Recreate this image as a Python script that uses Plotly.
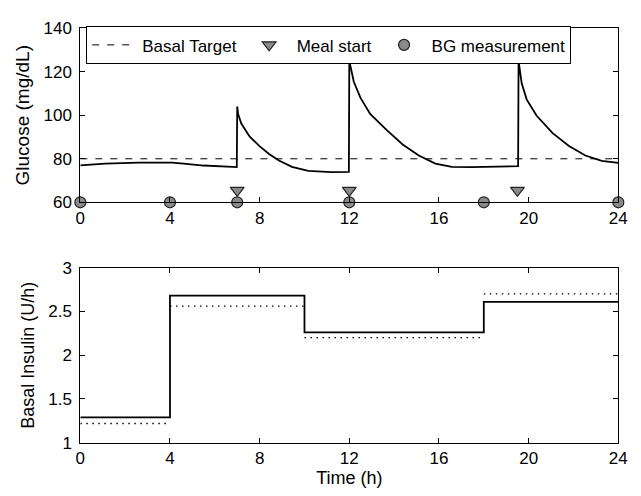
import plotly.graph_objects as go

# Glucose trajectory (mg/dL) over 24 h
t_glucose = [0, 1.1, 2.6, 4.1, 4.6, 5.5, 6.8, 6.98,
             7.0, 7.04, 7.18, 7.55, 7.98, 8.42, 8.86, 9.44, 10.17, 11.2, 11.98,
             12.0, 12.2, 12.5, 12.93, 13.66, 14.38, 15.1, 15.84, 16.57, 17.44, 18.5, 19.53,
             19.55, 19.69, 19.91, 20.35, 21.07, 21.8, 22.53, 23.26, 24.0]
glucose = [77.0, 77.8, 78.2, 78.2, 77.8, 76.9, 76.3, 76.2,
           104.0, 100.6, 96.2, 90.3, 85.9, 82.2, 79.2, 76.3, 74.4, 73.9, 74.0,
           125.0, 115.4, 108.0, 100.6, 93.3, 86.6, 81.5, 77.8, 76.3, 76.2, 76.4, 76.6,
           125.0, 114.7, 107.3, 99.9, 91.8, 85.9, 81.5, 79.0, 78.1]

# Basal glucose target (mg/dL)
t_target = [0, 24]
basal_target = [80, 80]

# Meal starts and blood glucose measurements
meal_times = [7, 12, 19.5]
meal_marker_level = [65.5, 65.5, 65.5]
bg_times = [0, 4, 7, 12, 18, 24]
bg_marker_level = [60, 60, 60, 60, 60, 60]

# Basal insulin profiles (U/h), piecewise constant
step_edges = [0, 4, 10, 18, 24]
insulin_solid = [1.29, 2.68, 2.26, 2.61]
insulin_dotted = [1.22, 2.56, 2.20, 2.70]

W, H = 641, 496
x_dom = [77 / W, 627 / W]
top_dom = [1 - 201 / H, 1 - 20 / H]
bot_dom = [1 - 451 / H, 1 - 269 / H]

FONT = "Liberation Sans, Arial, sans-serif"


def step_xy(edges, levels):
    xs, ys = [], []
    for i, v in enumerate(levels):
        xs += [edges[i], edges[i + 1]]
        ys += [v, v]
    return xs, ys


def segments_xy(edges, levels):
    xs, ys = [], []
    for i, v in enumerate(levels):
        xs += [edges[i], edges[i + 1], None]
        ys += [v, v, None]
    return xs, ys


fig = go.Figure()

fig.add_trace(go.Scatter(
    x=t_glucose, y=glucose, mode="lines", showlegend=False,
    line=dict(color="black", width=1.8), xaxis="x", yaxis="y"))

fig.add_trace(go.Scatter(
    x=t_target, y=basal_target, mode="lines", name="Basal Target",
    line=dict(color="black", width=1, dash="7px,8px"), xaxis="x", yaxis="y"))

fig.add_trace(go.Scatter(
    x=meal_times, y=meal_marker_level, mode="markers", name="Meal start",
    marker=dict(symbol="triangle-down", size=12, color="#8a8a8a",
                line=dict(color="#222", width=1.2)),
    cliponaxis=False, xaxis="x", yaxis="y"))

fig.add_trace(go.Scatter(
    x=bg_times, y=bg_marker_level, mode="markers", name="BG measurement",
    marker=dict(symbol="circle", size=11, color="#8a8a8a",
                line=dict(color="#222", width=1.2)),
    cliponaxis=False, xaxis="x", yaxis="y"))

sx, sy = step_xy(step_edges, insulin_solid)
fig.add_trace(go.Scatter(
    x=sx, y=sy, mode="lines", showlegend=False,
    line=dict(color="black", width=1.8), xaxis="x2", yaxis="y2"))

dx, dy = segments_xy(step_edges, insulin_dotted)
fig.add_trace(go.Scatter(
    x=dx, y=dy, mode="lines", showlegend=False, connectgaps=False,
    line=dict(color="black", width=1.3, dash="1.5px,4.5px"), xaxis="x2", yaxis="y2"))

axis_common = dict(
    showline=True, linecolor="black", linewidth=1, mirror="ticks",
    ticks="inside", ticklen=5, tickcolor="black", showgrid=False, zeroline=False,
    tickfont=dict(family=FONT, size=17, color="black"),
)

fig.update_layout(
    width=W, height=H,
    margin=dict(l=0, r=0, t=0, b=0),
    paper_bgcolor="white", plot_bgcolor="white",
    font=dict(family=FONT, color="black"),
    xaxis=dict(domain=x_dom, range=[0, 24], tickvals=[0, 4, 8, 12, 16, 20, 24],
               anchor="y", **axis_common),
    yaxis=dict(domain=top_dom, range=[60, 140], tickvals=[60, 80, 100, 120, 140],
               anchor="x", ticklabelstandoff=4,
               title=dict(text="Glucose (mg/dL)", standoff=8,
                          font=dict(family=FONT, size=19)),
               **axis_common),
    xaxis2=dict(domain=x_dom, range=[0, 24], tickvals=[0, 4, 8, 12, 16, 20, 24],
                anchor="y2", title=dict(text="Time (h)", standoff=4,
                                        font=dict(family=FONT, size=18)),
                **axis_common),
    yaxis2=dict(domain=bot_dom, range=[1, 3], tickvals=[1, 1.5, 2, 2.5, 3],
                anchor="x2", ticklabelstandoff=4,
                title=dict(text="Basal Insulin (U/h)", standoff=8,
                           font=dict(family=FONT, size=18)),
                **axis_common),
    legend=dict(orientation="h", x=83 / W, y=1 - 18 / H, xanchor="left", yanchor="top",
                bgcolor="white", bordercolor="black", borderwidth=1,
                font=dict(family=FONT, size=17, color="black"),
                itemwidth=45, tracegroupgap=0),
)

fig.write_html("out.html")
